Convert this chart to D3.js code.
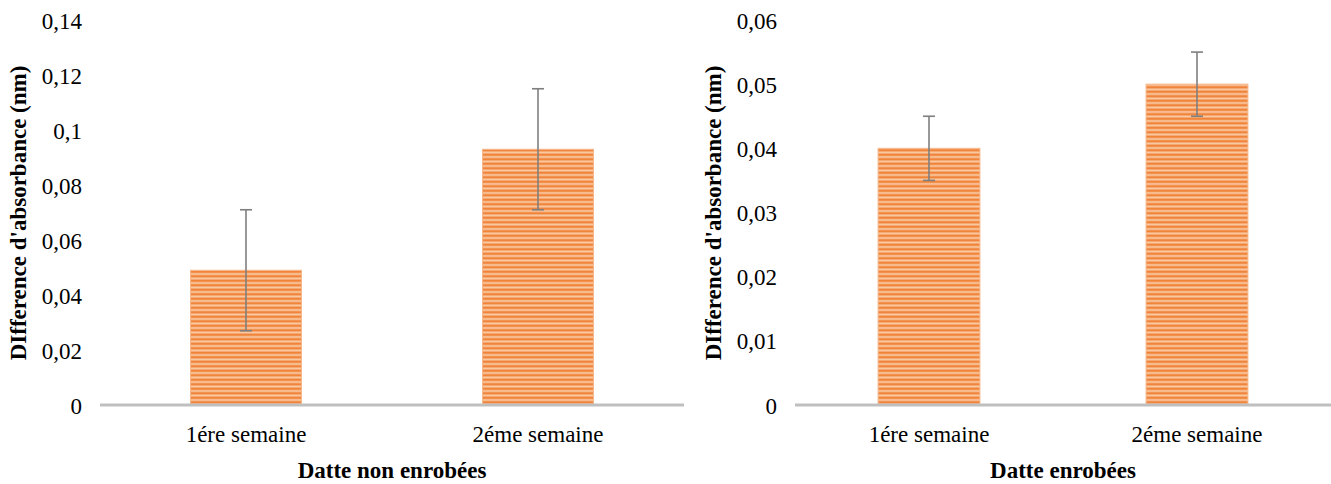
<!DOCTYPE html>
<html>
<head>
<meta charset="utf-8">
<style>
    body { margin: 0; background: #fff; }
    svg { font-family: "Liberation Serif", "Times New Roman", serif; }
    .tick text { font-size: 23px; fill: #000; }
    .axis-title { font-size: 23px; font-weight: bold; fill: #000; }
    .domain { display: none; }
    .tick line { display: none; }
</style>
</head>
<body>
<svg width="1331" height="484"></svg>
<script src="https://cdn.jsdelivr.net/npm/d3@7"></script>
<script>
    // data
    let categories = ["1ére semaine", "2éme semaine"];

    let nonCoatedValues = [0.049, 0.093];
    let nonCoatedErrors = [0.022, 0.022];
    let nonCoatedTicks = [0, 0.02, 0.04, 0.06, 0.08, 0.1, 0.12, 0.14];

    let coatedValues = [0.040, 0.050];
    let coatedErrors = [0.005, 0.005];
    let coatedTicks = [0, 0.01, 0.02, 0.03, 0.04, 0.05, 0.06];

    let svg = d3.select("svg");

    // striped orange fill like the excel pattern
    let pat = svg.append("defs").append("pattern")
        .attr("id", "stripes")
        .attr("patternUnits", "userSpaceOnUse")
        .attr("width", 8)
        .attr("height", 4.5);
    pat.append("rect").attr("width", 8).attr("height", 4.5).attr("fill", "#f9c9a3");
    pat.append("rect").attr("y", 0.5).attr("width", 8).attr("height", 2.5).attr("fill", "#f0843a");

    let fmt = d => String(+d.toFixed(2)).replace(".", ",");

    function drawChart(opt) {
        let g = svg.append("g");

        let x = d3.scaleBand()
            .domain(categories)
            .range([opt.left, opt.right])
            .paddingInner(opt.pad)
            .paddingOuter(opt.pad / 2);

        let y = d3.scaleLinear()
            .domain([0, opt.max])
            .range([405, 20]);

        g.append("g")
            .attr("class", "y axis")
            .attr("transform", `translate(${opt.labelX}, 0)`)
            .call(d3.axisLeft(y).tickValues(opt.ticks).tickFormat(fmt).tickSize(0).tickPadding(0))
            .attr("font-family", null)
            .attr("font-size", null)
            .selectAll("text")
            .attr("dy", "0.35em");

        g.append("g")
            .attr("class", "x axis")
            .attr("transform", "translate(0, 405)")
            .call(d3.axisBottom(x).tickSize(0).tickPadding(21))
            .attr("font-family", null)
            .attr("font-size", null);

        g.selectAll(".bar")
            .data(opt.values)
            .join("rect")
            .attr("class", "bar")
            .attr("x", (d, i) => x(categories[i]))
            .attr("width", x.bandwidth())
            .attr("y", d => y(d))
            .attr("height", d => y(0) - y(d))
            .attr("fill", "url(#stripes)")
            .attr("stroke", "#f6b78a")
            .attr("stroke-width", 1);

        // baseline
        g.append("line")
            .attr("x1", opt.left)
            .attr("x2", opt.right)
            .attr("y1", y(0))
            .attr("y2", y(0))
            .style("stroke", "#bfbfbf")
            .style("stroke-width", "3px");

        // error bars
        let err = g.selectAll(".err")
            .data(opt.values)
            .join("g")
            .attr("class", "err")
            .style("stroke", "#7f7f7f")
            .style("stroke-width", "1.6px");

        err.append("line")
            .attr("x1", (d, i) => x(categories[i]) + x.bandwidth() / 2)
            .attr("x2", (d, i) => x(categories[i]) + x.bandwidth() / 2)
            .attr("y1", (d, i) => y(d + opt.errors[i]))
            .attr("y2", (d, i) => y(d - opt.errors[i]));

        [1, -1].forEach(s => {
            err.append("line")
                .attr("x1", (d, i) => x(categories[i]) + x.bandwidth() / 2 - 6)
                .attr("x2", (d, i) => x(categories[i]) + x.bandwidth() / 2 + 6)
                .attr("y1", (d, i) => y(d + s * opt.errors[i]))
                .attr("y2", (d, i) => y(d + s * opt.errors[i]));
        });

        g.append("text")
            .attr("class", "axis-title")
            .attr("text-anchor", "middle")
            .attr("transform", `translate(${opt.titleYX}, 213) rotate(-90)`)
            .attr("dy", "0.35em")
            .text("DIfference d'absorbance (nm)");

        g.append("text")
            .attr("class", "axis-title")
            .attr("text-anchor", "middle")
            .attr("x", (opt.left + opt.right) / 2)
            .attr("y", 478)
            .text(opt.xTitle);
    }

    drawChart({
        left: 100, right: 684, pad: 0.62, max: 0.14,
        values: nonCoatedValues, errors: nonCoatedErrors, ticks: nonCoatedTicks,
        labelX: 82, titleYX: 18, xTitle: "Datte non enrobées"
    });

    drawChart({
        left: 795, right: 1331, pad: 0.62, max: 0.06,
        values: coatedValues, errors: coatedErrors, ticks: coatedTicks,
        labelX: 777, titleYX: 713, xTitle: "Datte enrobées"
    });
</script>
</body>
</html>
